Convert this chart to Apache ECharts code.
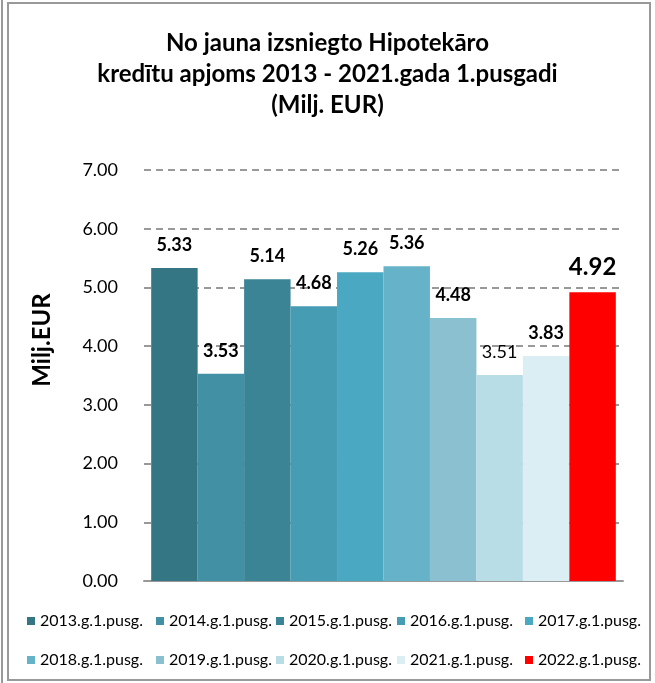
<!DOCTYPE html>
<html><head><meta charset="utf-8">
<script src="https://cdn.jsdelivr.net/npm/echarts@6/dist/echarts.min.js"></script>
<style>html,body{margin:0;padding:0;background:#fff}#c{width:655px;height:683px}</style>
</head><body><div id="c"></div>
<script>
var seriesNames = ['2013.g.1.pusg.','2014.g.1.pusg.','2015.g.1.pusg.','2016.g.1.pusg.','2017.g.1.pusg.','2018.g.1.pusg.','2019.g.1.pusg.','2020.g.1.pusg.','2021.g.1.pusg.','2022.g.1.pusg.'];
var values = [5.33, 3.53, 5.14, 4.68, 5.26, 5.36, 4.48, 3.51, 3.83, 4.92];
var colors = ['#357684','#4190A4','#3A8496','#459CB3','#4AA8C2','#66B2C9','#8AC0D0','#B8DDE7','#DAEEF3','#FF0000'];
var yTicks = [0,1,2,3,4,5,6,7];
var FONT = 'Lato, "Open Sans", sans-serif';

var labelStyles = seriesNames.map(function(n,i){
  if (i === 7) return {fontWeight:'normal', fontSize:18, distance:14};
  if (i === 9) return {fontWeight:'bold', fontSize:24, distance:13};
  return {fontWeight:'bold', fontSize:18, distance:14};
});

var series = seriesNames.map(function(n,i){
  return {
    name: n, type:'bar', data:[values[i]],
    barGap:'0%', barCategoryGap:'3%',
    itemStyle:{color:colors[i]},
    label:{show:true, position:'top', distance:labelStyles[i].distance, color:'#000', fontFamily:FONT,
      fontWeight:labelStyles[i].fontWeight, fontSize:labelStyles[i].fontSize,
      formatter:function(p){return p.value.toFixed(2);}}
  };
});

var legendX = [27,156,276,397,525];
var legends = seriesNames.map(function(n,i){
  return {
    data:[n], left: legendX[i%5], top: i<5 ? 613 : 652, padding:0,
    itemWidth:8, itemHeight:8, itemGap:0, itemTextGap:6, icon:'rect', selectedMode:false,
    textStyle:{fontSize:16, color:'#000', fontFamily:FONT, lineHeight:16}
  };
});

var chart = echarts.init(document.getElementById('c'), null, {renderer:'canvas'});
chart.setOption({
  backgroundColor:'#fff',
  animation:false,
  title:{
    text:'No jauna izsniegto Hipotekāro\nkredītu apjoms 2013 - 2021.gada 1.pusgadi\n(Milj. EUR)',
    left:'center', top:28, padding:0,
    textStyle:{fontFamily:FONT, fontWeight:'bold', fontSize:24, lineHeight:31, color:'#000'}
  },
  legend: legends,
  grid:{left:144, right:32, top:170, bottom:102},
  xAxis:{type:'category', data:[''], axisTick:{show:false}, axisLabel:{show:false},
    axisLine:{lineStyle:{color:'#999', width:2}}},
  yAxis:{type:'value', min:yTicks[0], max:yTicks[yTicks.length-1], interval:1,
    axisLine:{show:false}, axisTick:{show:false},
    axisLabel:{fontSize:18, color:'#000', fontFamily:FONT, margin:26, formatter:function(v){return v.toFixed(2);}},
    splitLine:{lineStyle:{color:'#999', width:2, type:[7,5]}}},
  graphic:[
    {type:'rect', shape:{x:8,y:3,width:642,height:677}, style:{fill:null, stroke:'#999', lineWidth:2}, silent:true},
    {type:'line', shape:{x1:2,y1:0,x2:2,y2:683}, style:{stroke:'#999', lineWidth:2}, silent:true},
    {type:'text', x:42, y:340, rotation:Math.PI/2, style:{text:'Milj.EUR', fontFamily:FONT, fontWeight:'bold', fontSize:24, fill:'#000', align:'center', verticalAlign:'middle'}}
  ],
  series: series
});
</script></body></html>
